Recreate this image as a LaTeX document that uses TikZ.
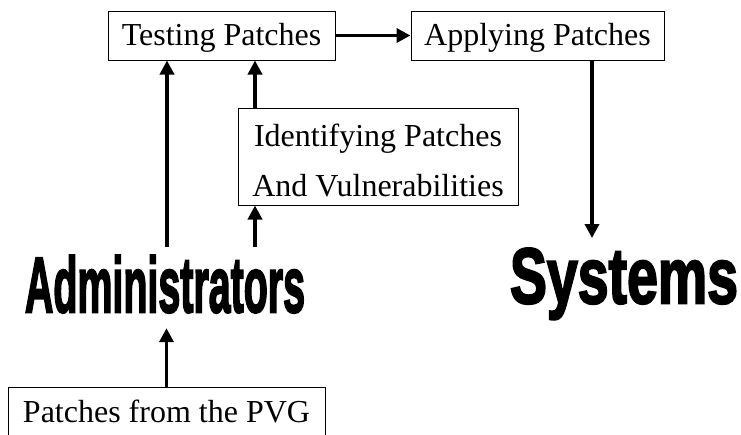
\documentclass[tikz,border=0pt]{standalone}
\usepackage{fontspec}
\setmainfont{Liberation Serif}
\newfontfamily\heavyfont{Liberation Sans}[BoldFeatures={FakeBold=3}]
\usetikzlibrary{arrows.meta}
\begin{document}
\begin{tikzpicture}[x=1pt,y=-1pt,
  box/.style={draw=black, line width=1pt, inner sep=0pt, font=\fontsize{32}{50}\selectfont},
  onel/.style={text height=26pt, text depth=7pt, minimum height=49pt},
  big/.style={inner sep=0pt, anchor=north},
  arr/.style={line width=3.5pt, -{Triangle[length=14pt,width=14pt]}}]
\useasboundingbox (0,0) rectangle (741,434);
\node[box, onel, minimum width=227pt] (tp) at (221.5,35.5) {Testing Patches};
\node[box, onel, minimum width=253pt] (ap) at (537.5,35.5) {Applying Patches};
\node[box, minimum width=280pt, minimum height=97pt, align=center] (ip) at (378,156.5) {\rule{0pt}{31pt}Identifying Patches\\And Vulnerabilities};
\node[big] (ad) at (165,255) {\resizebox{280pt}{57pt}{\heavyfont\bfseries Administrators}};
\node[big] (sys) at (624,248) {\resizebox{228pt}{55pt}{\heavyfont\bfseries Systems}};
\node[box, onel, minimum width=317pt, minimum height=51pt] (pvg) at (166.5,412.5) {Patches from the PVG};
\draw[arr] (tp) -- (ap);
\draw[arr, shorten >=10pt] ([xshift=54.5pt]ap.south) -- ([xshift=54.5pt]ap.south |- sys.north);
\draw[arr, shorten <=8pt] ([xshift=-54.5pt]tp.south |- ad.north) -- ([xshift=-54.5pt]tp.south);
\draw[arr, shorten <=8pt] ([xshift=-123pt]ip.south |- ad.north) -- ([xshift=-123pt]ip.south);
\draw[arr] ([xshift=-123pt]ip.north) -- ([xshift=-123pt]ip.north |- tp.south);
\draw[arr, shorten >=15pt] (pvg.north) -- (pvg.north |- ad.south);
\end{tikzpicture}
\end{document}
